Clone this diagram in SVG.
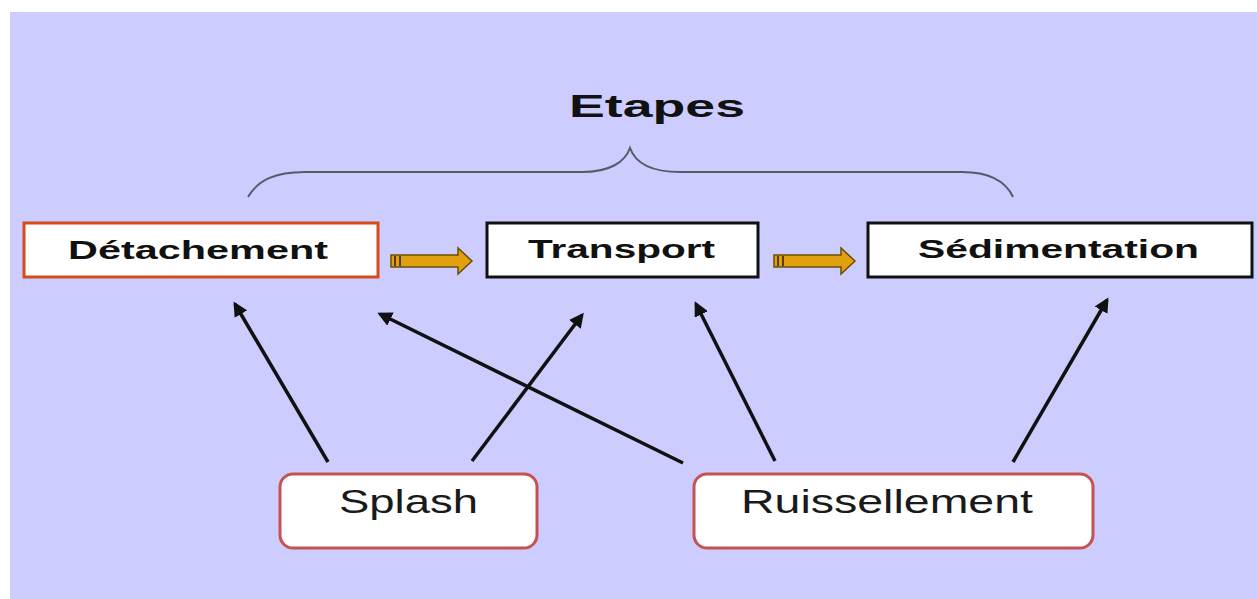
<svg xmlns="http://www.w3.org/2000/svg" width="1257" height="599" viewBox="0 0 1257 599">
<defs>
<style>
.bg{fill:#CCCCFF}
.box{fill:#FFFFFF;stroke-width:3}
.step{font-family:"Liberation Sans",Arial,sans-serif;font-weight:bold;font-size:25px;fill:#111}
.src{font-family:"Liberation Sans",Arial,sans-serif;font-size:33px;fill:#1a1a1a}
.conn{stroke:#111;stroke-width:3.5;fill:none;marker-end:url(#ah)}
.flow{fill:#E0A010;stroke:#6B4E00;stroke-width:1.5}
.band{stroke:#5a4000;stroke-width:2}
</style>
<marker id="ah" viewBox="0 0 10 10" refX="8" refY="5" markerWidth="4.2" markerHeight="4.2" orient="auto" markerUnits="strokeWidth">
<path d="M0,0 L10,5 L0,10 z" fill="#111"/>
</marker>
</defs>
<rect x="0" y="0" width="1257" height="599" fill="#FFFFFF"/>
<rect class="bg" x="10" y="12" width="1247" height="587"/>

<g id="title">
<text x="657" y="117" text-anchor="middle" font-family="'Liberation Sans',Arial,sans-serif" font-weight="bold" font-size="32" fill="#111" textLength="176" lengthAdjust="spacingAndGlyphs">Etapes</text>
<path d="M248,197 C258,180 275,172 305,172 L582,172 C610,172 625,162 630,148 C635,162 650,172 680,172 L962,172 C990,172 1006,182 1013,197" fill="none" stroke="#4f5f66" stroke-width="2"/>
</g>

<g id="connectors">
<line class="conn" x1="328" y1="462" x2="235" y2="304"/>
<line class="conn" x1="472" y1="461" x2="582" y2="315"/>
<line class="conn" x1="683" y1="463" x2="380" y2="314"/>
<line class="conn" x1="775" y1="461" x2="696" y2="304"/>
<line class="conn" x1="1013" y1="462" x2="1107" y2="300"/>
<g id="flow1">
<path class="flow" d="M391,255 L458,255 L458,248 L472,261 L458,274 L458,267 L391,267 z"/>
<line class="band" x1="395" y1="256" x2="395" y2="266"/>
<line class="band" x1="400" y1="256" x2="400" y2="266"/>
</g>
<g id="flow2">
<path class="flow" d="M774,255 L841,255 L841,248 L855,261 L841,274 L841,267 L774,267 z"/>
<line class="band" x1="778" y1="256" x2="778" y2="266"/>
<line class="band" x1="783" y1="256" x2="783" y2="266"/>
</g>
</g>

<g id="detachement">
<rect class="box" x="24" y="223" width="354" height="54" stroke="#D64A1C"/>
<text class="step" x="68" y="259" textLength="260" lengthAdjust="spacingAndGlyphs">Détachement</text>
</g>
<g id="transport">
<rect class="box" x="487" y="223" width="271" height="54" stroke="#111"/>
<text class="step" x="528" y="258" textLength="187" lengthAdjust="spacingAndGlyphs">Transport</text>
</g>
<g id="sedimentation">
<rect class="box" x="868" y="223" width="384" height="54" stroke="#111"/>
<text class="step" x="918" y="258" textLength="281" lengthAdjust="spacingAndGlyphs">Sédimentation</text>
</g>

<g id="splash">
<rect class="box" x="280" y="474" width="257" height="74" rx="13" stroke="#C85050"/>
<text class="src" x="339" y="513" textLength="139" lengthAdjust="spacingAndGlyphs">Splash</text>
</g>
<g id="ruissellement">
<rect class="box" x="694" y="474" width="399" height="74" rx="13" stroke="#C85050"/>
<text class="src" x="741" y="513" textLength="292" lengthAdjust="spacingAndGlyphs">Ruissellement</text>
</g>
</svg>
